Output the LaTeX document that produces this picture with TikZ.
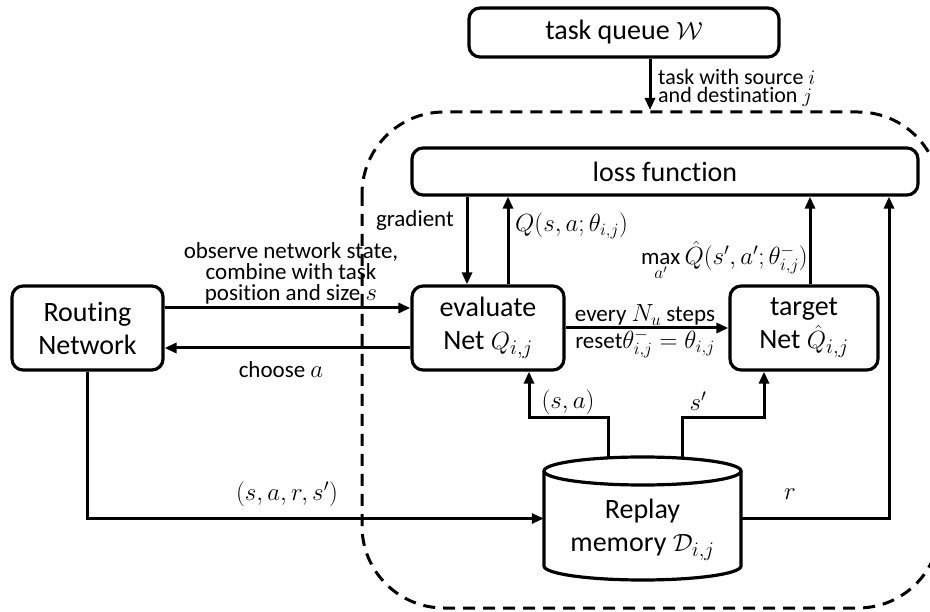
\documentclass[tikz,border=0pt]{standalone}
\usepackage{fontspec}
\setmainfont[Ligatures=NoCommon]{Carlito}
\usetikzlibrary{arrows.meta}
\newcommand{\bigf}{\fontsize{28}{33}\selectfont}
\newcommand{\labf}{\fontsize{23}{21}\selectfont}
\newcommand{\smallf}{\fontsize{22}{18.5}\selectfont}
\begin{document}
\begin{tikzpicture}[x=1pt,y=-1pt,
  box/.style={draw, line width=3.2pt, rounded corners=11pt, align=center, font=\bigf, inner sep=0pt},
  arr/.style={line width=3pt, -{Triangle[length=12pt,width=10pt]}},
  lab/.style={font=\labf, align=center, inner sep=1pt},
  dashbox/.style={line width=3pt, dash pattern=on 12pt off 8pt, rounded corners=82pt}]
\useasboundingbox (0,0) rectangle (930,612);

% dashed boundary
\draw[dashbox] (362,112) rectangle (940,608);

% boxes
\node[box, minimum width=310pt, minimum height=49pt] (taskq) at (624,32.5) {task queue $\mathcal{W}$};
\node[box, minimum width=506pt, minimum height=47pt] (loss) at (665,171.5) {loss function};
\node[box, minimum width=151pt, minimum height=84pt] (route) at (87.5,328) {Routing\\Network};
\node[box, minimum width=152pt, minimum height=84pt] (eval) at (488,328) {evaluate\\Net $Q_{i,j}$};
\node[box, minimum width=148pt, minimum height=84pt] (target) at (804,328) {target\\Net $\hat{Q}_{i,j}$};

% replay memory cylinder
\node[minimum width=197pt, minimum height=123pt, inner sep=0pt] (mem) at (642.5,518.5) {};
\draw[line width=3.2pt] (642.5,471) ellipse [x radius=98.5, y radius=14];
\draw[line width=3.2pt] (544,471) -- (544,566) arc[start angle=180, end angle=0, x radius=98.5, y radius=14] -- (741,471);
\node[font=\bigf, align=center, inner sep=0pt] (memtxt) at (642.5,530) {Replay\\memory $\mathcal{D}_{i,j}$};

% helper coordinates
\coordinate (tqend) at (650,110);
\coordinate (sa) at (529,418);
\coordinate (sp) at (764,418);
\coordinate (rx) at (889,0);

% task queue arrow
\draw[arr] ([xshift=26pt]taskq.south) -- (tqend);
\node[font=\smallf, align=left, anchor=west, inner sep=0pt] (tqlab) at (658,88) {task with source $i$\\and destination $j$};

% loss <-> evaluate
\draw[arr] ([xshift=-21pt]loss.south -| eval.north) -- ([xshift=-21pt]eval.north);
\draw[arr] ([xshift=20pt]eval.north) -- ([xshift=20pt]loss.south -| eval.north);
\node[lab, anchor=east] (glab) at (455,220) {gradient};
\node[lab, anchor=west] (qlab) at (514,226) {$Q(s,a;\theta_{i,j})$};

% target -> loss
\draw[arr] ([xshift=6pt]target.north) -- ([xshift=6pt]loss.south -| target.north);
\node[lab, anchor=east] (mlab) at (809,260) {$\max\limits_{a'}\hat{Q}(s',a';\theta^{-}_{i,j})$};

% routing <-> evaluate
\draw[arr] ([yshift=20pt]route.east) -- ([yshift=20pt]eval.west);
\draw[arr] ([yshift=-20pt]eval.west) -- ([yshift=-20pt]route.east);
\node[lab, anchor=south] (olab) at (291,305) {observe network state,\\combine with task\\position and size $s$};
\node[lab] (clab) at (281,370) {choose $a$};

% evaluate -> target
\draw[arr] (eval.east) -- (target.west);
\node[lab] (elab) at (645,315) {every $N_u$ steps};
\node[lab] (rlab) at (645,344) {reset$\theta^{-}_{i,j}=\theta_{i,j}$};

% memory -> evaluate, target
\draw[arr] ([xshift=-34.5pt]mem.north) |- (sa) -- (sa |- eval.south);
\draw[arr] ([xshift=39.5pt]mem.north) |- (sp) -- (sp |- target.south);
\node[lab] (salab) at (568,402) {$(s,a)$};
\node[lab] (splab) at (698,401) {$s'$};

% routing -> memory
\draw[arr] (route.south) |- (mem.west);
\node[lab] (tlab) at (287,494) {$(s,a,r,s')$};

% memory -> loss (r)
\draw[arr] (mem.east) -| (rx |- loss.south);
\node[lab] (rrlab) at (790,494) {$r$};
\end{tikzpicture}
\end{document}
